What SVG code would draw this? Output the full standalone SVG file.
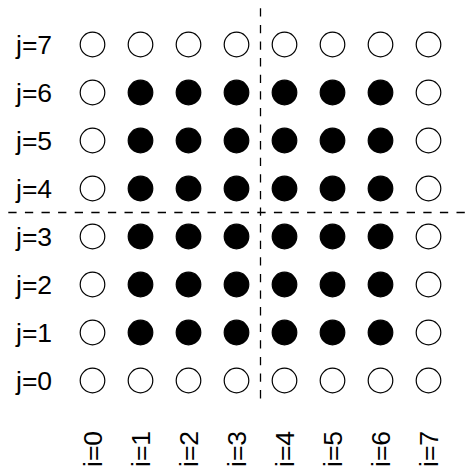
<svg xmlns="http://www.w3.org/2000/svg" width="470" height="468" viewBox="0 0 470 468">
<style>
.o{fill:#fff;stroke:#000;stroke-width:1.2}
.f{fill:#000;stroke:#000;stroke-width:1.2}
.t{font-family:"Liberation Sans",Arial,sans-serif;font-size:26.5px;fill:#000}
.d{stroke:#000;stroke-width:1.3;stroke-dasharray:8.3 8.3;fill:none}
</style>
<rect width="470" height="468" fill="#fff"/>
<g id="connectors">
<line class="d" x1="260.5" y1="8.3" x2="260.5" y2="404"/>
<line class="d" x1="8.3" y1="212.5" x2="470" y2="212.5"/>
</g>
<g id="rowlabels">
<text class="t" x="16" y="54">j=7</text>
<text class="t" x="16" y="102">j=6</text>
<text class="t" x="16" y="150">j=5</text>
<text class="t" x="16" y="198">j=4</text>
<text class="t" x="16" y="246">j=3</text>
<text class="t" x="16" y="294">j=2</text>
<text class="t" x="16" y="342">j=1</text>
<text class="t" x="16" y="390">j=0</text>
</g>
<g id="collabels">
<text class="t" transform="translate(102,467) rotate(-90)">i=0</text>
<text class="t" transform="translate(150,467) rotate(-90)">i=1</text>
<text class="t" transform="translate(198,467) rotate(-90)">i=2</text>
<text class="t" transform="translate(246,467) rotate(-90)">i=3</text>
<text class="t" transform="translate(294,467) rotate(-90)">i=4</text>
<text class="t" transform="translate(342,467) rotate(-90)">i=5</text>
<text class="t" transform="translate(390,467) rotate(-90)">i=6</text>
<text class="t" transform="translate(438,467) rotate(-90)">i=7</text>
</g>
<g id="row7"><circle class="o" cx="92.5" cy="44.5" r="12.3"/><circle class="o" cx="140.5" cy="44.5" r="12.3"/><circle class="o" cx="188.5" cy="44.5" r="12.3"/><circle class="o" cx="236.5" cy="44.5" r="12.3"/><circle class="o" cx="284.5" cy="44.5" r="12.3"/><circle class="o" cx="332.5" cy="44.5" r="12.3"/><circle class="o" cx="380.5" cy="44.5" r="12.3"/><circle class="o" cx="428.5" cy="44.5" r="12.3"/></g>
<g id="row6"><circle class="o" cx="92.5" cy="92.5" r="12.3"/><circle class="f" cx="140.5" cy="92.5" r="12.3"/><circle class="f" cx="188.5" cy="92.5" r="12.3"/><circle class="f" cx="236.5" cy="92.5" r="12.3"/><circle class="f" cx="284.5" cy="92.5" r="12.3"/><circle class="f" cx="332.5" cy="92.5" r="12.3"/><circle class="f" cx="380.5" cy="92.5" r="12.3"/><circle class="o" cx="428.5" cy="92.5" r="12.3"/></g>
<g id="row5"><circle class="o" cx="92.5" cy="140.5" r="12.3"/><circle class="f" cx="140.5" cy="140.5" r="12.3"/><circle class="f" cx="188.5" cy="140.5" r="12.3"/><circle class="f" cx="236.5" cy="140.5" r="12.3"/><circle class="f" cx="284.5" cy="140.5" r="12.3"/><circle class="f" cx="332.5" cy="140.5" r="12.3"/><circle class="f" cx="380.5" cy="140.5" r="12.3"/><circle class="o" cx="428.5" cy="140.5" r="12.3"/></g>
<g id="row4"><circle class="o" cx="92.5" cy="188.5" r="12.3"/><circle class="f" cx="140.5" cy="188.5" r="12.3"/><circle class="f" cx="188.5" cy="188.5" r="12.3"/><circle class="f" cx="236.5" cy="188.5" r="12.3"/><circle class="f" cx="284.5" cy="188.5" r="12.3"/><circle class="f" cx="332.5" cy="188.5" r="12.3"/><circle class="f" cx="380.5" cy="188.5" r="12.3"/><circle class="o" cx="428.5" cy="188.5" r="12.3"/></g>
<g id="row3"><circle class="o" cx="92.5" cy="236.5" r="12.3"/><circle class="f" cx="140.5" cy="236.5" r="12.3"/><circle class="f" cx="188.5" cy="236.5" r="12.3"/><circle class="f" cx="236.5" cy="236.5" r="12.3"/><circle class="f" cx="284.5" cy="236.5" r="12.3"/><circle class="f" cx="332.5" cy="236.5" r="12.3"/><circle class="f" cx="380.5" cy="236.5" r="12.3"/><circle class="o" cx="428.5" cy="236.5" r="12.3"/></g>
<g id="row2"><circle class="o" cx="92.5" cy="284.5" r="12.3"/><circle class="f" cx="140.5" cy="284.5" r="12.3"/><circle class="f" cx="188.5" cy="284.5" r="12.3"/><circle class="f" cx="236.5" cy="284.5" r="12.3"/><circle class="f" cx="284.5" cy="284.5" r="12.3"/><circle class="f" cx="332.5" cy="284.5" r="12.3"/><circle class="f" cx="380.5" cy="284.5" r="12.3"/><circle class="o" cx="428.5" cy="284.5" r="12.3"/></g>
<g id="row1"><circle class="o" cx="92.5" cy="332.5" r="12.3"/><circle class="f" cx="140.5" cy="332.5" r="12.3"/><circle class="f" cx="188.5" cy="332.5" r="12.3"/><circle class="f" cx="236.5" cy="332.5" r="12.3"/><circle class="f" cx="284.5" cy="332.5" r="12.3"/><circle class="f" cx="332.5" cy="332.5" r="12.3"/><circle class="f" cx="380.5" cy="332.5" r="12.3"/><circle class="o" cx="428.5" cy="332.5" r="12.3"/></g>
<g id="row0"><circle class="o" cx="92.5" cy="380.5" r="12.3"/><circle class="o" cx="140.5" cy="380.5" r="12.3"/><circle class="o" cx="188.5" cy="380.5" r="12.3"/><circle class="o" cx="236.5" cy="380.5" r="12.3"/><circle class="o" cx="284.5" cy="380.5" r="12.3"/><circle class="o" cx="332.5" cy="380.5" r="12.3"/><circle class="o" cx="380.5" cy="380.5" r="12.3"/><circle class="o" cx="428.5" cy="380.5" r="12.3"/></g>
</svg>
